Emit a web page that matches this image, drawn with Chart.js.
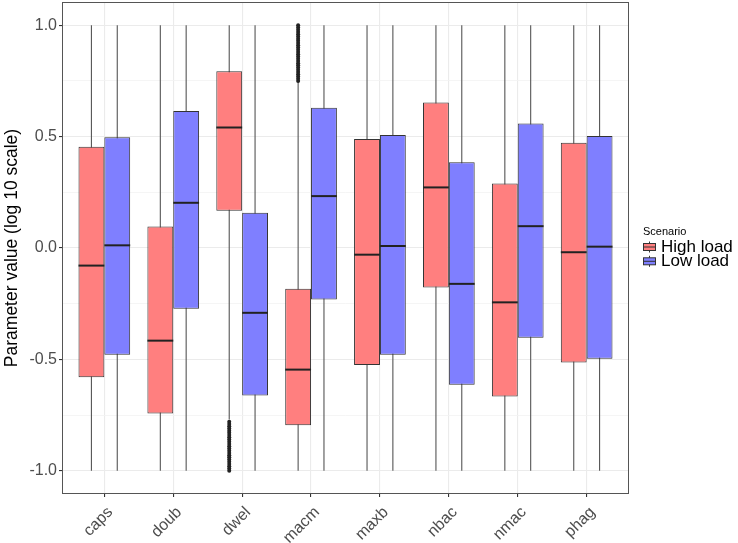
<!DOCTYPE html>
<html><head><meta charset="utf-8">
<script src="https://cdn.jsdelivr.net/npm/chart.js@4.4.1/dist/chart.umd.min.js"></script>
<style>html,body{margin:0;padding:0;background:#fff;} #wrap{width:738px;height:543px;position:relative;}</style>
</head><body><div id="wrap"><canvas id="c" width="738" height="543"></canvas></div>
<script>
const categories = ['caps','doub','dwel','macm','maxb','nbac','nmac','phag'];
const seriesNames = ['High load','Low load'];
const seriesColors = ['#FF7F7F','#7F7FFF'];
const yMajorTicks = [-1.0,-0.5,0.0,0.5,1.0];
const yMinorTicks = [-0.75,-0.25,0.25,0.75];

// High load
const highQ1     = [-0.580,-0.743, 0.167,-0.796,-0.525,-0.177,-0.667,-0.514];
const highMedian = [-0.079,-0.416, 0.541,-0.546,-0.030, 0.272,-0.244,-0.019];
const highQ3     = [ 0.455, 0.097, 0.794,-0.183, 0.489, 0.653, 0.290, 0.472];
const highLower  = [-1.0,-1.0,-0.77,-1.0,-1.0,-1.0,-1.0,-1.0];
const highUpper  = [ 1.0, 1.0, 1.0, 0.745, 1.0, 1.0, 1.0, 1.0];
const highOutliers = [[],[],
  [-0.78,-0.79,-0.80,-0.81,-0.82,-0.83,-0.84,-0.85,-0.86,-0.87,-0.88,-0.89,-0.90,-0.91,-0.92,-0.93,-0.94,-0.95,-0.96,-0.97,-0.98,-0.99,-1.00],
  [0.75,0.76,0.77,0.78,0.79,0.80,0.81,0.82,0.83,0.84,0.85,0.86,0.87,0.88,0.89,0.90,0.91,0.92,0.93,0.94,0.95,0.96,0.97,0.98,0.99,1.00],
  [],[],[],[]];

// Low load
const lowQ1     = [-0.479,-0.273,-0.662,-0.231,-0.479,-0.614,-0.403,-0.497];
const lowMedian = [ 0.012, 0.203,-0.291, 0.233, 0.009,-0.161, 0.098, 0.006];
const lowQ3     = [ 0.497, 0.615, 0.158, 0.630, 0.507, 0.385, 0.559, 0.503];
const lowLower  = [-1.0,-1.0,-1.0,-1.0,-1.0,-1.0,-1.0,-1.0];
const lowUpper  = [ 1.0, 1.0, 1.0, 1.0, 1.0, 1.0, 1.0, 1.0];
const lowOutliers = [[],[],[],[],[],[],[],[]];

const stats = [
  {q1:highQ1, med:highMedian, q3:highQ3, lower:highLower, upper:highUpper, out:highOutliers},
  {q1:lowQ1, med:lowMedian, q3:lowQ3, lower:lowLower, upper:lowUpper, out:lowOutliers}
];

const FONT = '"Liberation Sans", Arial, Helvetica, sans-serif';

const boxPlugin = {
  id: 'boxExtras',
  beforeDatasetsDraw(chart) {
    const ctx = chart.ctx, ys = chart.scales.y;
    stats.forEach((s, di) => {
      chart.getDatasetMeta(di).data.forEach((bar, i) => {
        ctx.save();
        ctx.strokeStyle = '#555555'; ctx.lineWidth = 1.1;
        ctx.beginPath();
        ctx.moveTo(bar.x, ys.getPixelForValue(s.upper[i]));
        ctx.lineTo(bar.x, ys.getPixelForValue(s.lower[i]));
        ctx.stroke();
        ctx.restore();
      });
    });
  },
  afterDatasetsDraw(chart) {
    const ctx = chart.ctx, ys = chart.scales.y;
    stats.forEach((s, di) => {
      chart.getDatasetMeta(di).data.forEach((bar, i) => {
        ctx.save();
        const half = bar.width / 2;
        const my = ys.getPixelForValue(s.med[i]);
        ctx.strokeStyle = '#222222'; ctx.lineWidth = 2;
        ctx.beginPath(); ctx.moveTo(bar.x - half, my); ctx.lineTo(bar.x + half, my); ctx.stroke();
        ctx.fillStyle = '#222222';
        s.out[i].forEach(v => {
          ctx.beginPath(); ctx.arc(bar.x, ys.getPixelForValue(v), 2, 0, Math.PI * 2); ctx.fill();
        });
        ctx.restore();
      });
    });
  },
  afterDraw(chart) {
    const ctx = chart.ctx, a = chart.chartArea;
    ctx.save();
    ctx.strokeStyle = '#555555'; ctx.lineWidth = 1;
    ctx.strokeRect(a.left - 0.5, a.top - 0.5, a.right - a.left + 1, a.bottom - a.top + 1);
    // legend
    const lx = 643;
    ctx.fillStyle = '#000';
    ctx.font = '11px ' + FONT;
    ctx.textBaseline = 'middle'; ctx.textAlign = 'left';
    ctx.fillText('Scenario', lx, 232);
    seriesNames.forEach((name, k) => {
      const cy = 247 + k * 14.3;
      ctx.strokeStyle = '#333'; ctx.lineWidth = 1;
      ctx.beginPath(); ctx.moveTo(lx + 6.5, cy - 5.5); ctx.lineTo(lx + 6.5, cy + 5.5); ctx.stroke();
      ctx.fillStyle = seriesColors[k];
      ctx.fillRect(lx + 0.5, cy - 3.5, 12, 7);
      ctx.strokeRect(lx + 0.5, cy - 3.5, 12, 7);
      ctx.beginPath(); ctx.moveTo(lx + 0.5, cy); ctx.lineTo(lx + 12.5, cy); ctx.stroke();
      ctx.fillStyle = '#000';
      ctx.font = '17px ' + FONT;
      ctx.fillText(name, lx + 18, cy + 0.5);
    });
    ctx.restore();
  }
};

const datasets = stats.map((s, di) => ({
  label: seriesNames[di],
  data: categories.map((c, i) => ({x: i + 1, y: [s.q1[i], s.q3[i]]})),
  backgroundColor: seriesColors[di],
  borderColor: '#333333',
  borderWidth: 1,
  borderSkipped: false,
  categoryPercentage: 0.75,
  barPercentage: 1.0
}));

const isMajor = v => yMajorTicks.some(t => Math.abs(t - v) < 1e-9);

new Chart(document.getElementById('c'), {
  type: 'bar',
  data: { datasets },
  plugins: [boxPlugin],
  options: {
    responsive: false,
    animation: false,
    devicePixelRatio: 1,
    layout: { padding: { left: 0, right: 110, top: 3, bottom: 0 } },
    plugins: { legend: { display: false }, tooltip: { enabled: false } },
    scales: {
      x: {
        type: 'linear',
        offset: false,
        min: 0.4, max: 8.6,
        afterBuildTicks: sc => { sc.ticks = categories.map((c, i) => ({ value: i + 1 })); },
        afterFit: sc => { sc.height = 50; sc.paddingLeft = 0; sc.paddingRight = 0; },
        border: { display: false },
        grid: { color: '#ebebeb', lineWidth: 1.1, tickLength: 4, tickColor: '#333333', offset: false },
        ticks: {
          autoSkip: false, minRotation: 45, maxRotation: 45, padding: 6, labelOffset: 6,
          color: '#4d4d4d', font: { family: FONT, size: 16 },
          callback: v => categories[Math.round(v) - 1]
        }
      },
      y: {
        type: 'linear',
        min: -1.1, max: 1.1,
        afterBuildTicks: sc => {
          sc.ticks = yMajorTicks.concat(yMinorTicks).sort((a, b) => a - b).map(v => ({ value: v }));
        },
        afterFit: sc => { sc.width = 63; sc.paddingTop = 0; sc.paddingBottom = 0; },
        border: { display: false },
        grid: {
          color: ctx => isMajor(ctx.tick.value) ? '#ebebeb' : '#f3f3f3',
          lineWidth: ctx => isMajor(ctx.tick.value) ? 1.1 : 0.8,
          tickLength: 4,
          tickColor: ctx => isMajor(ctx.tick.value) ? '#333333' : 'rgba(0,0,0,0)'
        },
        ticks: {
          autoSkip: false, padding: 2,
          color: '#4d4d4d', font: { family: FONT, size: 16 },
          callback: v => isMajor(v) ? v.toFixed(1) : ''
        },
        title: {
          display: true, text: 'Parameter value (log 10 scale)',
          color: '#000', font: { family: FONT, size: 17.5 },
          padding: { top: 2, bottom: 0 }
        }
      }
    }
  }
});
</script></body></html>
